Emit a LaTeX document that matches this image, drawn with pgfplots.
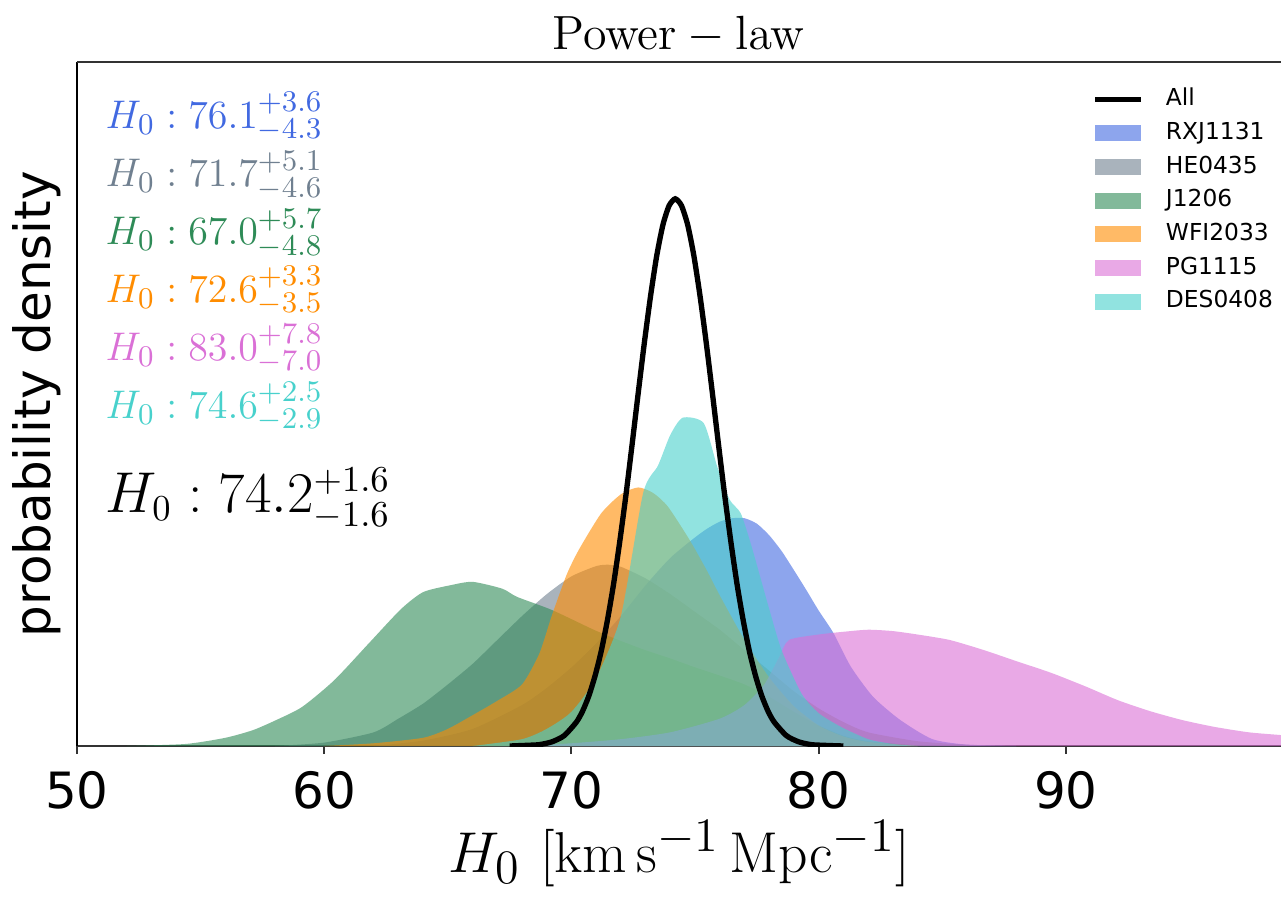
\documentclass[border=0pt]{standalone}
\usepackage[no-math]{fontspec}
\setmainfont{DejaVu Sans}
\usepackage{pgfplots}
\pgfplotsset{compat=1.18}
\definecolor{cRX}{RGB}{65,105,225}
\definecolor{cHE}{RGB}{112,128,144}
\definecolor{cJ}{RGB}{46,139,87}
\definecolor{cWF}{RGB}{255,140,0}
\definecolor{cPG}{RGB}{218,112,214}
\definecolor{cDE}{RGB}{72,209,204}
\pgfplotsset{
  patchleg/.style={legend image code/.code={\fill[##1] (0pt,-2.4pt) rectangle (13.8pt,2.4pt);}},
  lineleg/.style={legend image code/.code={\draw[##1] (0pt,0pt) -- (13.8pt,0pt);}},
}
\begin{document}
\begin{tikzpicture}
\begin{axis}[
  scale only axis, width=361.2pt, height=205.2pt,
  xmin=50, xmax=98.7, ymin=0, ymax=1,
  xtick={50,60,70,80,90}, ytick=\empty,
  axis x line*=bottom, axis y line*=left,
  x axis line style={line width=0.8pt, black!80},
  y axis line style={line width=0.6pt, black},
  tick align=outside, major tick length=2.4pt, xtick pos=bottom,
  every tick/.style={black!80, line width=0.6pt},
  /pgf/number format/assume math mode=true,
  xticklabel style={font=\fontsize{15}{18}\selectfont, inner sep=0pt, anchor=north, yshift=-5pt},
  xlabel={$H_0\ [\mathrm{km\,s^{-1}\,Mpc^{-1}}]$},
  xlabel style={font=\fontsize{19}{22}\selectfont, at={(axis description cs:0.5,0)}, anchor=base, yshift=-37.8pt, inner sep=0pt},
  ylabel={probability density},
  ylabel style={font=\fontsize{15}{18}\selectfont, at={(axis description cs:-0.0224,0.5)}, anchor=base, inner sep=0pt},
  legend style={draw=none, fill=none, at={(0.843,0.962)}, anchor=north west,
    font=\fontsize{7}{8}\selectfont, inner xsep=0pt, inner ysep=0pt, row sep=3.5pt,
    nodes={inner sep=0pt, text height=5.2pt, text depth=1.4pt},
    /tikz/every odd column/.append style={column sep=6.6pt}},
  legend cell align=left,
  clip mode=individual,
]
\coordinate (sw) at (rel axis cs:0,0);
\coordinate (ne) at (rel axis cs:1,1);

\addlegendimage{black, line width=1.6pt, lineleg}
\addlegendentry{All}

% RXJ1131
\addplot[patchleg, draw=none, fill=cRX, fill opacity=0.6, smooth, tension=0.4] coordinates {
(62,0) (64,0.008) (66,0.025) (68,0.06) (69,0.085) (70,0.115) (71,0.15) (72,0.19) (73,0.235) (74,0.275) (75,0.305) (75.5,0.318) (76,0.328) (76.5,0.333) (77,0.333) (77.5,0.325) (78,0.308) (78.5,0.285) (79,0.257) (79.5,0.228) (80,0.198) (80.6,0.165) (81.3,0.116) (82.2,0.072) (83.3,0.038) (84.6,0.01) (86,0.002) (88,0)
} \closedcycle;
\addlegendentry{RXJ1131}

% HE0435
\addplot[patchleg, draw=none, fill=cHE, fill opacity=0.6, smooth, tension=0.4] coordinates {
(58,0) (60,0.005) (62,0.02) (63,0.04) (64,0.062) (65,0.09) (66,0.12) (67,0.155) (68,0.19) (69,0.222) (70,0.248) (71,0.263) (71.5,0.265) (72,0.262) (73,0.245) (74,0.222) (75,0.196) (76,0.17) (77,0.14) (78,0.11) (79,0.08) (80,0.055) (81,0.035) (82,0.02) (84,0.007) (86,0.002) (88,0)
} \closedcycle;
\addlegendentry{HE0435}

% J1206
\addplot[patchleg, draw=none, fill=cJ, fill opacity=0.6, smooth, tension=0.4] coordinates {
(52,0) (54.4,0.003) (56,0.012) (57.1,0.023) (58,0.037) (59.1,0.057) (60.4,0.096) (61.8,0.15) (63.1,0.2) (64,0.225) (65.1,0.235) (66,0.24) (67.2,0.23) (67.8,0.218) (69.2,0.199) (70.9,0.17) (71.9,0.155) (73,0.14) (74,0.128) (75,0.115) (76,0.103) (77,0.09) (78,0.072) (79,0.05) (80,0.03) (81,0.015) (82,0.007) (84,0.001) (86,0)
} \closedcycle;
\addlegendentry{J1206}

% WFI2033
\addplot[patchleg, draw=none, fill=cWF, fill opacity=0.6, smooth, tension=0.4] coordinates {
(60,0) (62,0.004) (64,0.012) (65,0.025) (66,0.045) (67,0.066) (68,0.09) (68.7,0.135) (69.2,0.19) (69.8,0.25) (70.3,0.287) (71.2,0.34) (72,0.368) (72.7,0.378) (73.3,0.37) (73.9,0.35) (74.8,0.3) (75.5,0.255) (76,0.22) (77,0.155) (78,0.1) (79,0.058) (80,0.03) (81,0.014) (82,0.006) (84,0)
} \closedcycle;
\addlegendentry{WFI2033}

% PG1115
\addplot[patchleg, draw=none, fill=cPG, fill opacity=0.6, smooth, tension=0.4] coordinates {
(68,0) (70,0.004) (72,0.01) (74,0.02) (76,0.04) (77,0.06) (77.8,0.09) (78.4,0.13) (78.8,0.155) (80,0.163) (81,0.167) (82,0.17) (83,0.168) (84,0.163) (85.3,0.155) (86.7,0.14) (88,0.124) (89.4,0.107) (90.8,0.087) (92.1,0.067) (93.4,0.051) (94.7,0.038) (96,0.028) (97.4,0.02) (98.7,0.016) (100,0.012)
} \closedcycle;
\addlegendentry{PG1115}

% DES0408
\addplot[patchleg, draw=none, fill=cDE, fill opacity=0.6, smooth, tension=0.4] coordinates {
(66,0) (68,0.01) (69,0.025) (70,0.05) (71,0.1) (72,0.19) (72.9,0.37) (73.5,0.41) (74,0.455) (74.5,0.48) (75.35,0.472) (75.9,0.408) (76.4,0.36) (76.85,0.34) (77.3,0.29) (78,0.2) (78.5,0.14) (79.3,0.077) (80,0.048) (80.9,0.028) (82,0.01) (83,0.003) (84,0)
} \closedcycle;
\addlegendentry{DES0408}

% All
\addplot[black, line width=1.6pt, smooth, tension=0.4, forget plot] coordinates {
(67.5,0) (68.2,0.001) (68.7,0.002) (69.2,0.006) (69.7,0.015) (70.2,0.035) (70.45,0.051) (70.7,0.073) (70.95,0.102) (71.2,0.138) (71.45,0.183) (71.7,0.236) (71.95,0.298) (72.2,0.366) (72.45,0.44) (72.7,0.516) (72.95,0.59) (73.2,0.658) (73.45,0.717) (73.7,0.762) (73.95,0.79) (74.2,0.8) (74.45,0.79) (74.7,0.762) (74.95,0.717) (75.2,0.658) (75.45,0.59) (75.7,0.516) (75.95,0.44) (76.2,0.366) (76.45,0.298) (76.7,0.236) (76.95,0.183) (77.2,0.138) (77.45,0.102) (77.7,0.073) (77.95,0.051) (78.2,0.035) (78.7,0.015) (79.2,0.006) (79.7,0.002) (80.2,0.001) (81,0)
};

\node[anchor=base west, text=cRX, font=\fontsize{13}{15}\selectfont, inner sep=0pt] at (rel axis cs:0.0233,0.9035) {$H_0: 76.1^{+3.6}_{-4.3}$};
\node[anchor=base west, text=cHE, font=\fontsize{13}{15}\selectfont, inner sep=0pt] at (rel axis cs:0.0233,0.8173) {$H_0: 71.7^{+5.1}_{-4.6}$};
\node[anchor=base west, text=cJ, font=\fontsize{13}{15}\selectfont, inner sep=0pt] at (rel axis cs:0.0233,0.7325) {$H_0: 67.0^{+5.7}_{-4.8}$};
\node[anchor=base west, text=cWF, font=\fontsize{13}{15}\selectfont, inner sep=0pt] at (rel axis cs:0.0233,0.6491) {$H_0: 72.6^{+3.3}_{-3.5}$};
\node[anchor=base west, text=cPG, font=\fontsize{13}{15}\selectfont, inner sep=0pt] at (rel axis cs:0.0233,0.5643) {$H_0: 83.0^{+7.8}_{-7.0}$};
\node[anchor=base west, text=cDE, font=\fontsize{13}{15}\selectfont, inner sep=0pt] at (rel axis cs:0.0233,0.4795) {$H_0: 74.6^{+2.5}_{-2.9}$};
\node[anchor=base west, text=black, font=\fontsize{16}{19}\selectfont, inner sep=0pt] at (rel axis cs:0.0233,0.342) {$H_0: 74.2^{+1.6}_{-1.6}$};

\draw[black!80, line width=0.8pt] (rel axis cs:0,1) -- (rel axis cs:1,1);
\node[anchor=base, font=\fontsize{14}{16}\selectfont, inner sep=0pt] at ([yshift=3.6pt]rel axis cs:0.5,1) {$\mathrm{Power-law}$};
\end{axis}
\pgfresetboundingbox
\useasboundingbox ([shift={(-23.1pt,-46.5pt)}]sw) rectangle ([shift={(0pt,18.6pt)}]ne);
\end{tikzpicture}
\end{document}
